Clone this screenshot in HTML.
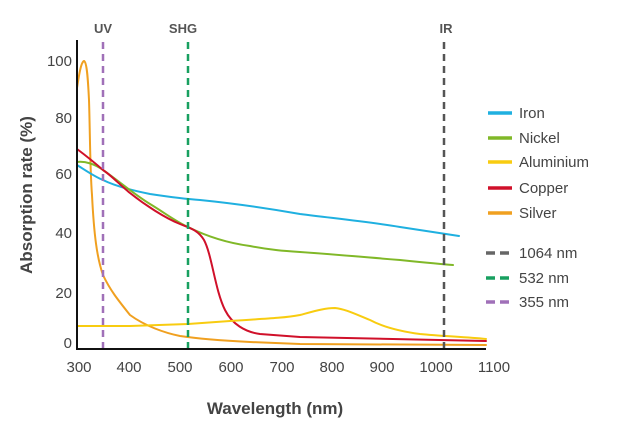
<!DOCTYPE html>
<html><head><style>body{margin:0;background:#fff}</style></head><body>
<svg width="620" height="440" viewBox="0 0 620 440" xmlns="http://www.w3.org/2000/svg" font-family="Liberation Sans, sans-serif">
<g fill="none" stroke-width="2" stroke-linejoin="round" stroke-linecap="round">
<path stroke="#f0a020" d="M77,88 C79,75 81,62 84,61 C87,62 88,80 89,100 C90,130 90,170 92,195 C94,235 97,258 103,275 C110,290 118,300 130,315 C145,326 165,333 180,336 C200,339 230,341 250,342 L300,344 L486,345"/>
<path stroke="#1fb0e0" d="M77,165 C85,170 95,177 103,180 C115,186 130,190 150,194 C170,197 185,199 200,200 C230,203 260,207 300,214 C340,219 370,222 400,227 C420,230 440,233 459,236"/>
<path stroke="#80b828" d="M77,162 C85,161 95,164 103,170 C120,182 135,195 150,204 C165,213 175,221 188,227 C200,233 220,242 250,246 C270,250 285,251 300,252 C330,254 350,256 400,260 C420,262 440,264 453,265"/>
<path stroke="#d0102a" d="M77,149 C85,155 95,163 103,170 C112,176 120,185 130,193 C145,205 165,218 180,224 C190,228 198,230 204,240 C212,255 215,290 225,310 C232,324 245,332 260,334 L300,337 L486,341"/>
<path stroke="#f8cc10" d="M77,326 L130,326 L188,324 L230,321 C260,319 285,318 300,315 C315,311 325,308 335,308 C345,309 355,314 370,320 C385,328 405,332 420,334 C440,336 465,337 486,339"/>
</g>
<g stroke-width="2.5" stroke-dasharray="7,5" fill="none">
<line x1="103" y1="42" x2="103" y2="349" stroke="#a070b8"/>
<line x1="188" y1="42" x2="188" y2="349" stroke="#18a060"/>
<line x1="444" y1="42" x2="444" y2="349" stroke="#555"/>
</g>
<path d="M77,40 V349 H486" stroke="#111" stroke-width="2" fill="none"/>
<g fill="#444" font-size="15" text-anchor="end">
<text x="72" y="66">100</text><text x="72" y="123">80</text><text x="72" y="179">60</text>
<text x="72" y="238">40</text><text x="72" y="298">20</text><text x="72" y="348">0</text>
</g>
<g fill="#444" font-size="15" text-anchor="middle">
<text x="79" y="372">300</text><text x="129" y="372">400</text><text x="180" y="372">500</text>
<text x="231" y="372">600</text><text x="282" y="372">700</text><text x="332" y="372">800</text>
<text x="382" y="372">900</text><text x="436" y="372">1000</text><text x="494" y="372">1100</text>
</g>
<g fill="#555" font-size="13" font-weight="bold" text-anchor="middle">
<text x="103" y="33">UV</text><text x="183" y="33">SHG</text><text x="446" y="33">IR</text>
</g>
<text x="275" y="414" font-size="17" font-weight="bold" fill="#444" text-anchor="middle">Wavelength (nm)</text>
<text transform="translate(32,195) rotate(-90)" font-size="17" fill="#444" text-anchor="middle" font-weight="bold">Absorption rate (%)</text>
<g stroke-width="3.5">
<line x1="488" y1="113" x2="512" y2="113" stroke="#1fb0e0"/>
<line x1="488" y1="138" x2="512" y2="138" stroke="#80b828"/>
<line x1="488" y1="162" x2="512" y2="162" stroke="#f8cc10"/>
<line x1="488" y1="188" x2="512" y2="188" stroke="#d0102a"/>
<line x1="488" y1="213" x2="512" y2="213" stroke="#f0a020"/>
<line x1="486" y1="253" x2="512" y2="253" stroke="#666" stroke-dasharray="9,5"/>
<line x1="486" y1="278" x2="512" y2="278" stroke="#18a060" stroke-dasharray="9,5"/>
<line x1="486" y1="302" x2="512" y2="302" stroke="#a070b8" stroke-dasharray="9,5"/>
</g>
<g fill="#444" font-size="15">
<text x="519" y="118">Iron</text><text x="519" y="143">Nickel</text><text x="519" y="167">Aluminium</text>
<text x="519" y="193">Copper</text><text x="519" y="218">Silver</text>
<text x="519" y="258">1064 nm</text><text x="519" y="283">532 nm</text><text x="519" y="307">355 nm</text>
</g>
</svg>
</body></html>
